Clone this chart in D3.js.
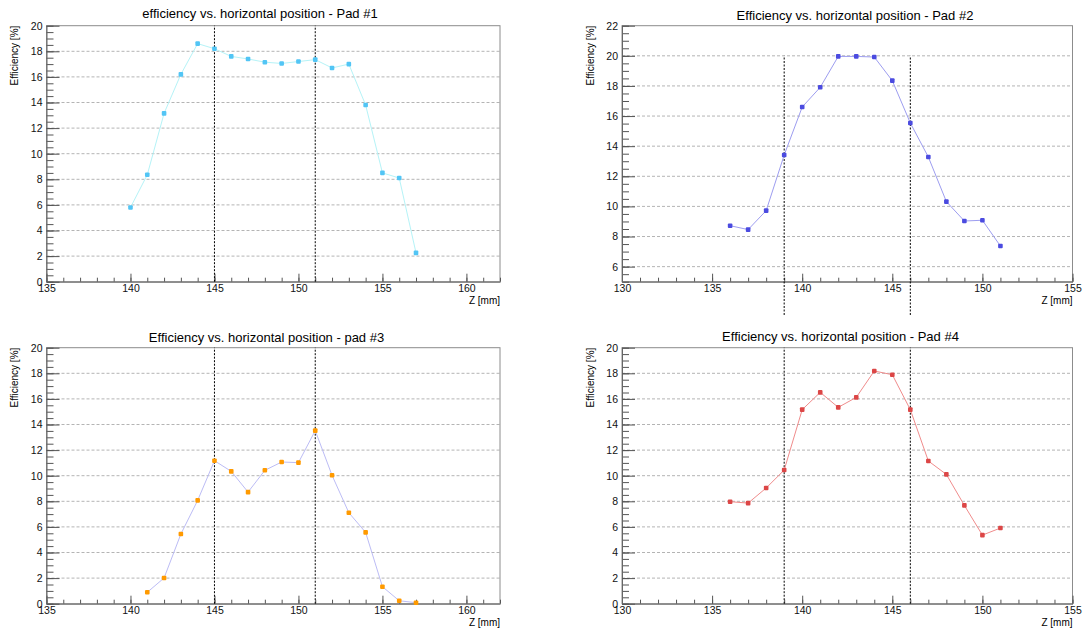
<!DOCTYPE html>
<html>
<head>
<meta charset="utf-8">
<script src="https://cdn.jsdelivr.net/npm/d3@7"></script>
<style>
  html, body { margin: 0; padding: 0; background: #fff; }
  svg { display: block; font-family: "Liberation Sans", Arial, Helvetica, sans-serif; }
</style>
</head>
<body>
<svg id="chart" width="1083" height="630"></svg>
<script>
// ---------------- data ----------------
const pad1Z   = [140, 141, 142, 143, 144, 145, 146, 147, 148, 149, 150, 151, 152, 153, 154, 155, 156, 157];
const pad1Eff = [5.8, 8.35, 13.15, 16.2, 18.6, 18.2, 17.6, 17.4, 17.15, 17.05, 17.2, 17.35, 16.7, 17.0, 13.8, 8.5, 8.1, 2.25];

const pad2Z   = [136, 137, 138, 139, 140, 141, 142, 143, 144, 145, 146, 147, 148, 149, 150, 151];
const pad2Eff = [8.72, 8.46, 9.72, 13.41, 16.6, 17.91, 19.96, 19.96, 19.92, 18.35, 15.54, 13.28, 10.32, 9.03, 9.08, 7.37];

const pad3Z   = [141, 142, 143, 144, 145, 146, 147, 148, 149, 150, 151, 152, 153, 154, 155, 156, 157];
const pad3Eff = [0.89, 2.01, 5.44, 8.07, 11.17, 10.34, 8.72, 10.42, 11.07, 11.02, 13.52, 10.03, 7.11, 5.57, 1.33, 0.23, 0.08];

const pad4Z   = [136, 137, 138, 139, 140, 141, 142, 143, 144, 145, 146, 147, 148, 149, 150, 151];
const pad4Eff = [7.97, 7.86, 9.04, 10.44, 15.16, 16.51, 15.34, 16.12, 18.18, 17.89, 15.16, 11.15, 10.10, 7.68, 5.36, 5.91];

const titles = [
  "efficiency vs. horizontal position - Pad #1",
  "Efficiency vs. horizontal position - Pad #2",
  "Efficiency vs. horizontal position - pad #3",
  "Efficiency vs. horizontal position - Pad #4"
];
const xDomains = [[135, 162], [130, 155], [135, 162], [130, 155]];
const yDomains = [[0, 20], [5, 22], [0, 20], [0, 20]];
const xMajorTicks = [
  [135, 140, 145, 150, 155, 160],
  [130, 135, 140, 145, 150, 155],
  [135, 140, 145, 150, 155, 160],
  [130, 135, 140, 145, 150, 155]
];
const yMajorTicks = [
  [0, 2, 4, 6, 8, 10, 12, 14, 16, 18, 20],
  [6, 8, 10, 12, 14, 16, 18, 20, 22],
  [0, 2, 4, 6, 8, 10, 12, 14, 16, 18, 20],
  [0, 2, 4, 6, 8, 10, 12, 14, 16, 18, 20]
];
const boundaryZ = [[145, 151], [139, 146], [145, 151], [139, 146]];
const boundaryEff = [0, 20];
const xTitle = "Z [mm]";
const yTitle = "Efficiency [%]";

// ---------------- layout / style ----------------
const pads = [
  { px: 0,   py: 0,   pw: 541, ph: 315, left: 46.5, right: 500,  top: 25.7,  bottom: 281.7, titleX: 260, titleY: 13.5, ytX: 14.5,
    z: pad1Z, eff: pad1Eff, marker: "#52c5f5", line: "#b5f3f7" },
  { px: 541, py: 0,   pw: 542, ph: 315, left: 622,  right: 1072.5, top: 25.7, bottom: 281.7, titleX: 855, titleY: 15.5, ytX: 590.5,
    z: pad2Z, eff: pad2Eff, marker: "#4b4be0", line: "#9d9df0" },
  { px: 0,   py: 315, pw: 541, ph: 315, left: 46.5, right: 500,  top: 347.7, bottom: 603.7, titleX: 266.5, titleY: 337.5, ytX: 14.5,
    z: pad3Z, eff: pad3Eff, marker: "#ff9a00", line: "#bcbcf5" },
  { px: 541, py: 315, pw: 542, ph: 315, left: 622,  right: 1072.5, top: 347.7, bottom: 603.7, titleX: 840.5, titleY: 336, ytX: 590.5,
    z: pad4Z, eff: pad4Eff, marker: "#dc4646", line: "#f08c8c" }
];

const svg = d3.select("#chart");
const defs = svg.append("defs");

pads.forEach((p, i) => {
  const x = d3.scaleLinear().domain(xDomains[i]).range([p.left, p.right]);
  const y = d3.scaleLinear().domain(yDomains[i]).range([p.bottom, p.top]);

  defs.append("clipPath").attr("id", "pad" + i)
    .append("rect").attr("x", p.px).attr("y", p.py).attr("width", p.pw).attr("height", p.ph);
  const g = svg.append("g").attr("clip-path", `url(#pad${i})`);

  // horizontal grid
  g.append("g").selectAll("line")
    .data(yMajorTicks[i].filter(v => v > yDomains[i][0] && v < yDomains[i][1]))
    .join("line")
    .attr("x1", p.left).attr("x2", p.right)
    .attr("y1", d => y(d)).attr("y2", d => y(d))
    .attr("stroke", "#b4b4b4").attr("stroke-width", 1)
    .attr("stroke-dasharray", "3,2");

  // frame
  g.append("rect")
    .attr("x", p.left).attr("y", p.top)
    .attr("width", p.right - p.left).attr("height", p.bottom - p.top)
    .attr("fill", "none").attr("stroke", "#8c8c8c").attr("stroke-width", 1);

  // minor ticks
  const xMinor = d3.range(xDomains[i][0], xDomains[i][1] + 0.001, 1);
  const yMinor = d3.range(Math.ceil(yDomains[i][0]), yDomains[i][1] + 0.001, 0.5);

  const axX = g.append("g").attr("transform", `translate(0,${p.bottom})`);
  axX.call(d3.axisBottom(x).tickValues(xMinor).tickFormat("").tickSizeInner(-4).tickSizeOuter(0));
  axX.call(g2 => g2.select(".domain").remove());
  const axX2 = g.append("g").attr("transform", `translate(0,${p.bottom})`)
    .call(d3.axisBottom(x).tickValues(xMajorTicks[i]).tickFormat(d3.format("d"))
      .tickSizeInner(-8).tickSizeOuter(0).tickPadding(3));
  axX2.select(".domain").attr("stroke", "#666");
  axX2.selectAll("text").attr("font-size", 10.5).attr("fill", "#111")
    .attr("font-family", "'Liberation Sans', Arial, sans-serif");

  const axY = g.append("g").attr("transform", `translate(${p.left},0)`);
  axY.call(d3.axisLeft(y).tickValues(yMinor).tickFormat("").tickSizeInner(-7).tickSizeOuter(0));
  axY.call(g2 => g2.select(".domain").remove());
  const axY2 = g.append("g").attr("transform", `translate(${p.left},0)`)
    .call(d3.axisLeft(y).tickValues(yMajorTicks[i]).tickFormat(d3.format("d"))
      .tickSizeInner(-13).tickSizeOuter(0).tickPadding(4));
  axY2.select(".domain").attr("stroke", "#666");
  axY2.selectAll("text").attr("font-size", 10.5).attr("fill", "#111")
    .attr("font-family", "'Liberation Sans', Arial, sans-serif");
  g.selectAll(".tick line").attr("stroke", "#555");

  // boundary lines
  g.append("g").selectAll("line")
    .data(boundaryZ[i])
    .join("line")
    .attr("x1", d => x(d)).attr("x2", d => x(d))
    .attr("y1", y(boundaryEff[0])).attr("y2", y(boundaryEff[1]))
    .attr("stroke", "#000").attr("stroke-width", 1)
    .attr("stroke-dasharray", "2,1.5");

  // data line
  const pts = p.z.map((zv, k) => [zv, p.eff[k]]);
  g.append("path")
    .datum(pts)
    .attr("fill", "none")
    .attr("stroke", p.line).attr("stroke-width", 1)
    .attr("d", d3.line().x(d => x(d[0])).y(d => y(d[1])));

  // markers
  g.append("g").selectAll("rect")
    .data(pts)
    .join("rect")
    .attr("x", d => x(d[0]) - 2.3).attr("y", d => y(d[1]) - 2.3)
    .attr("width", 4.6).attr("height", 4.6).attr("rx", 1)
    .attr("fill", p.marker);

  // titles
  svg.append("text")
    .attr("x", p.titleX).attr("y", p.titleY)
    .attr("dy", "0.35em")
    .attr("text-anchor", "middle")
    .attr("font-size", 13).attr("fill", "#000")
    .text(titles[i]);

  svg.append("text")
    .attr("transform", `translate(${p.ytX},${p.top}) rotate(-90)`)
    .attr("dy", "0.35em")
    .attr("text-anchor", "end")
    .attr("font-size", 10).attr("fill", "#000")
    .text(yTitle);

  svg.append("text")
    .attr("x", p.right).attr("y", p.bottom + 22)
    .attr("text-anchor", "end")
    .attr("font-size", 10).attr("fill", "#000")
    .text(xTitle);
});
</script>
</body>
</html>
